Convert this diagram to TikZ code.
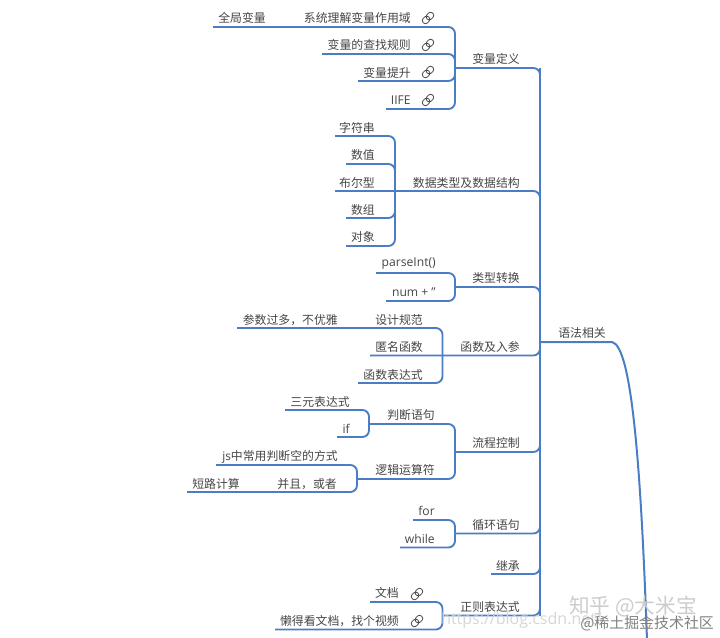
\documentclass[tikz,border=0pt]{standalone}
\usepackage{fontspec}
\setmainfont{Open Sans}
\newfontfamily\cjkfont{Noto Sans CJK SC}
\usepackage{xcolor}
\definecolor{linkblue}{HTML}{4A7DC6}
\definecolor{labelgray}{HTML}{454545}
\tikzset{
  item/.style={anchor=east,inner sep=0pt,text=labelgray,font=\cjkfont\fontsize{8.9}{10}\selectfont},
  latin/.style={item,font=\fontsize{9.1}{10}\selectfont},
  branch/.style={draw=linkblue,line width=1.4pt,rounded corners=5pt},
  trunk/.style={branch,line width=1.6pt},
  mark text/.style={anchor=west,inner sep=0pt,text=#1},
  linkicon/.pic={
    \draw[labelgray,line width=0.6pt,rounded corners=2pt,x=1pt,y=1pt,rotate=45]
      (-5,-2.3) rectangle (0.9,2.3) (-0.9,-2.3) rectangle (5,2.3);
  }
}
\begin{document}
\begin{tikzpicture}[x=0.75pt,y=-0.75pt]
  \useasboundingbox (0,0) rectangle (720,638);
  \begin{scope}
    \clip (0,0) rectangle (720,638);
    % trunk
    \coordinate (root) at (540,342);
    \coordinate (bottom) at (647,640);
    \node[item] (yufa) at (606,333) {语法相关};
    \draw[branch,line width=1.5pt,rounded corners=0pt] (root) -- (612,342)
      .. controls (632,346) and (641,470) .. (bottom);
    \draw[trunk] (540,68) -- (root) -- (540,616);
    % variables
    \node[item] (bianliang) at (520,59) {变量定义};
    \node[item] (quanju) at (266,18) {全局变量};
    \node[item] (xitong) at (411,18) {系统理解变量作用域};
    \node[item] (chazhao) at (411,45) {变量的查找规则};
    \node[item] (tisheng) at (411,73) {变量提升};
    \node[latin] (iife) at (411,100) {IIFE};
    \coordinate (bianliangj) at (455,68);
    \draw[branch] (213,27) -| (bianliangj);
    \draw[branch] (322,54) -| (bianliangj);
    \draw[branch] (358,81) -| (bianliangj);
    \draw[branch] (386,109) -| (bianliangj);
    \draw[branch] (bianliangj) -| (root);
    % data types
    \node[item] (shuju) at (520,183) {数据类型及数据结构};
    \node[item] (zifu) at (375,128) {字符串};
    \node[item] (shuzhi) at (375,155) {数值};
    \node[item] (buer) at (375,183) {布尔型};
    \node[item] (shuzu) at (375,210) {数组};
    \node[item] (duixiang) at (375,237) {对象};
    \coordinate (shujuj) at (395,191);
    \draw[branch] (335,136) -| (shujuj);
    \draw[branch] (346,164) -| (shujuj);
    \draw[branch] (346,218) -| (shujuj);
    \draw[branch] (346,246) -| (shujuj);
    \draw[branch] (335,191) -| (root);
    % conversion
    \node[item] (leixing) at (520,278) {类型转换};
    \node[latin] (parse) at (436,264) {parseInt()};
    \node[latin] (num) at (436,292) {num + ''};
    \coordinate (leixingj) at (455,287);
    \draw[branch] (376,273) -| (leixingj);
    \draw[branch] (386,301) -| (leixingj);
    \draw[branch] (leixingj) -| (root);
    % functions
    \node[item] (hanshu) at (520,347) {函数及入参};
    \node[item] (canshu) at (338,320) {参数过多，不优雅};
    \node[item] (sheji) at (423,320) {设计规范};
    \node[item] (niming) at (423,347) {匿名函数};
    \node[item] (biaoda) at (423,375) {函数表达式};
    \coordinate (hanshuj) at (442.5,355.5);
    \draw[branch] (237,328) -| (hanshuj);
    \draw[branch] (358,383) -| (hanshuj);
    \draw[branch] (370,355.5) -| (root);
    % control flow
    \node[item] (liucheng) at (520,443) {流程控制};
    \node[item] (panduan) at (435,415) {判断语句};
    \node[item] (luoji) at (435,470) {逻辑运算符};
    \node[item] (sanyuan) at (350,402) {三元表达式};
    \node[latin] (ifnode) at (350,429) {if};
    \node[item] (kong) at (338,457) {\rmfamily js\cjkfont 中常用判断空的方式};
    \node[item] (bingqie) at (337,484) {并且，或者};
    \node[item] (duanlu) at (240,484) {短路计算};
    \coordinate (liuchengj) at (455,452);
    \coordinate (panduanj) at (369,424);
    \coordinate (luojij) at (357,479);
    \draw[branch] (285,410) -| (panduanj);
    \draw[branch] (337,437) -| (panduanj);
    \draw[branch] (panduanj) -| (liuchengj);
    \draw[branch] (216,465) -| (luojij);
    \draw[branch] (187,492) -| (luojij);
    \draw[branch] (luojij) -| (liuchengj);
    \draw[branch] (liuchengj) -| (root);
    % loops
    \node[item] (xunhuan) at (520,525) {循环语句};
    \node[latin] (fornode) at (435,511) {for};
    \node[latin] (whilenode) at (435,539) {while};
    \coordinate (xunhuanj) at (455,533.5);
    \draw[branch] (413,520) -| (xunhuanj);
    \draw[branch] (400,547.5) -| (xunhuanj);
    \draw[branch] (xunhuanj) -| (root);
    % inheritance and regexp
    \node[item] (jicheng) at (520,566) {继承};
    \draw[branch] (491,574) -| (root);
    \node[item] (zhengze) at (520,607) {正则表达式};
    \node[item] (wendang) at (399,593) {文档};
    \node[item] (shipin) at (399,621) {懒得看文档，找个视频};
    \coordinate (zhengzej) at (442.5,615.5);
    \draw[branch] (370,602) -| (zhengzej);
    \draw[branch] (275,629.5) -| (zhengzej);
    \draw[branch] (zhengzej) -| (root);
    % link icons
    \foreach \px/\py in {428/18,428/45,428/72,428/100,417/594,417/621}{
      \pic at (\px,\py) {linkicon};
    }
    % watermarks
    \node[mark text=black!16,font=\fontsize{12}{14}\selectfont] (csdn) at (441,620) {https://blog.csdn.net/};
    \node[mark text=black!20,font=\cjkfont\fontsize{15.5}{16}\selectfont] (zhihu) at (569,607) {知乎 @大米宝};
    \node[mark text=black!50,font=\cjkfont\fontsize{11.2}{12}\selectfont] (xitu) at (580,623) {@稀土掘金技术社区};
  \end{scope}
\end{tikzpicture}
\end{document}
